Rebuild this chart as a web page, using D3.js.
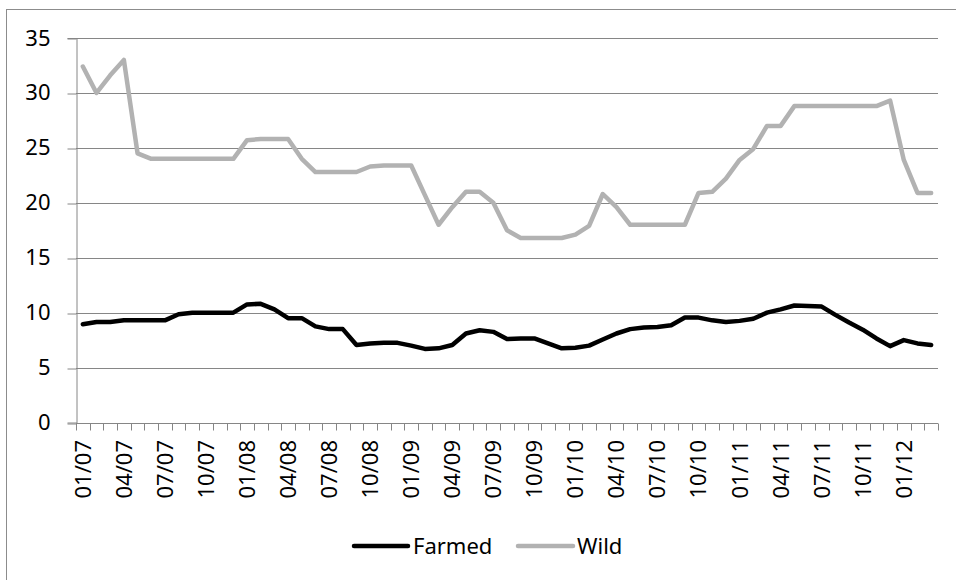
<!DOCTYPE html>
<html>
<head>
<meta charset="utf-8">
<script src="https://cdn.jsdelivr.net/npm/d3@7"></script>
<style>
  html, body { margin: 0; padding: 0; background: #fff; }
  svg { display: block; }
  text { font-family: "Noto Sans", "Open Sans", sans-serif; fill: #000; }
</style>
</head>
<body>
<svg id="chart" width="956" height="580"></svg>
<script>
// Monthly categories, Jan 2007 – Mar 2012
const months = [
  "01/07","02/07","03/07","04/07","05/07","06/07","07/07","08/07","09/07","10/07","11/07","12/07",
  "01/08","02/08","03/08","04/08","05/08","06/08","07/08","08/08","09/08","10/08","11/08","12/08",
  "01/09","02/09","03/09","04/09","05/09","06/09","07/09","08/09","09/09","10/09","11/09","12/09",
  "01/10","02/10","03/10","04/10","05/10","06/10","07/10","08/10","09/10","10/10","11/10","12/10",
  "01/11","02/11","03/11","04/11","05/11","06/11","07/11","08/11","09/11","10/11","11/11","12/11",
  "01/12","02/12","03/12"
];

// Labels shown on the category axis (every third month)
const tickLabels = [
  "01/07","04/07","07/07","10/07","01/08","04/08","07/08","10/08","01/09","04/09","07/09",
  "10/09","01/10","04/10","07/10","10/10","01/11","04/11","07/11","10/11","01/12"
];

const farmed = [
  8.95, 9.15, 9.15, 9.3, 9.3, 9.3, 9.3, 9.85, 10.0, 10.0, 10.0, 10.0,
  10.75, 10.8, 10.3, 9.5, 9.5, 8.75, 8.5, 8.5, 7.05, 7.2, 7.25, 7.25,
  7.0, 6.7, 6.75, 7.05, 8.1, 8.4, 8.25, 7.6, 7.65, 7.65, 7.2, 6.75,
  6.8, 7.0, 7.55, 8.1, 8.5, 8.65, 8.7, 8.85, 9.55, 9.55, 9.3, 9.15,
  9.25, 9.45, 10.0, 10.3, 10.65, 10.6, 10.55, 9.8, 9.1, 8.45, 7.65, 6.95,
  7.5, 7.2, 7.05
];

const wild = [
  32.4, 30.0, 31.6, 33.0, 24.5, 24.0, 24.0, 24.0, 24.0, 24.0, 24.0, 24.0,
  25.7, 25.8, 25.8, 25.8, 24.0, 22.8, 22.8, 22.8, 22.8, 23.3, 23.4, 23.4,
  23.4, 20.7, 18.0, 19.6, 21.0, 21.0, 20.0, 17.5, 16.8, 16.8, 16.8, 16.8,
  17.1, 17.9, 20.8, 19.6, 18.0, 18.0, 18.0, 18.0, 18.0, 20.9, 21.0, 22.2,
  23.9, 24.9, 27.0, 27.0, 28.8, 28.8, 28.8, 28.8, 28.8, 28.8, 28.8, 29.3,
  23.9, 20.9, 20.9
];

const yTicks = [0, 5, 10, 15, 20, 25, 30, 35];

const series = [
  { name: "Farmed", values: farmed, color: "#000000" },
  { name: "Wild",   values: wild,   color: "#b2b2b2" }
];

const svg = d3.select("#chart");
const plot = { left: 76, right: 938, top: 38, bottom: 422.5 };
const gridColor = "#868686";
const fontSize = 22;

// Chart frame
svg.append("rect")
  .attr("x", 6.5).attr("y", 9.5)
  .attr("width", 960).attr("height", 580)
  .attr("fill", "none").attr("stroke", "#8c8c8c").attr("stroke-width", 1);

const x = d3.scaleBand().domain(months).range([plot.left, plot.right]).paddingInner(0).paddingOuter(0);
const y = d3.scaleLinear().domain([0, 35]).range([plot.bottom, plot.top]);

// Horizontal gridlines
svg.append("g")
  .selectAll("line")
  .data(yTicks.filter(t => t > 0))
  .join("line")
  .attr("x1", plot.left).attr("x2", plot.right)
  .attr("y1", d => Math.round(y(d)) + 0.5).attr("y2", d => Math.round(y(d)) + 0.5)
  .attr("stroke", gridColor).attr("stroke-width", 1);

// Value axis
const yAxis = d3.axisLeft(y).tickValues(yTicks).tickSize(9).tickPadding(17).tickFormat(d3.format("d"));
const gy = svg.append("g")
  .attr("transform", `translate(${plot.left + 0.5},0)`)
  .call(yAxis);
gy.select(".domain").attr("stroke", gridColor);
gy.selectAll(".tick line").attr("stroke", gridColor)
  .attr("transform", d => `translate(0,${Math.round(y(d)) + 0.5 - y(d)})`);
gy.selectAll(".tick text")
  .style("font-family", '"Noto Sans", "Open Sans", sans-serif')
  .style("font-size", fontSize + "px")
  .attr("fill", "#000");

// Category axis: ticks between months
const xAxisY = Math.round(plot.bottom) + 0.5;
const boundaries = d3.range(months.length + 1).map(i => plot.left + i * x.step());
svg.append("line")
  .attr("x1", plot.left).attr("x2", plot.right)
  .attr("y1", xAxisY).attr("y2", xAxisY)
  .attr("stroke", gridColor);
svg.append("g")
  .selectAll("line")
  .data(boundaries)
  .join("line")
  .attr("x1", d => Math.round(d) + 0.5).attr("x2", d => Math.round(d) + 0.5)
  .attr("y1", xAxisY).attr("y2", xAxisY + 7)
  .attr("stroke", gridColor);

svg.append("g")
  .selectAll("text")
  .data(tickLabels)
  .join("text")
  .attr("transform", d => `translate(${x(d) + x.bandwidth() / 2},440) rotate(-90)`)
  .attr("text-anchor", "end")
  .attr("dy", "0.36em")
  .style("font-size", fontSize + "px")
  .text(d => d);

// Series lines
const line = d3.line()
  .x((d, i) => x(months[i]) + x.bandwidth() / 2)
  .y(d => y(d));

svg.append("g")
  .selectAll("path")
  .data(series)
  .join("path")
  .attr("d", d => line(d.values))
  .attr("fill", "none")
  .attr("stroke", d => d.color)
  .attr("stroke-width", 4.5)
  .attr("stroke-linejoin", "round")
  .attr("stroke-linecap", "round");

// Legend
const legendItems = [
  { s: series[0], x0: 354, x1: 408, tx: 413 },
  { s: series[1], x0: 518, x1: 573, tx: 577 }
];
const legendY = 546;
const lg = svg.append("g");
lg.selectAll("line")
  .data(legendItems)
  .join("line")
  .attr("x1", d => d.x0).attr("x2", d => d.x1)
  .attr("y1", legendY).attr("y2", legendY)
  .attr("stroke", d => d.s.color)
  .attr("stroke-width", 4.5)
  .attr("stroke-linecap", "round");
lg.selectAll("text")
  .data(legendItems)
  .join("text")
  .attr("x", d => d.tx).attr("y", legendY)
  .attr("dy", "0.36em")
  .style("font-size", fontSize + "px")
  .text(d => d.s.name);
</script>
</body>
</html>
